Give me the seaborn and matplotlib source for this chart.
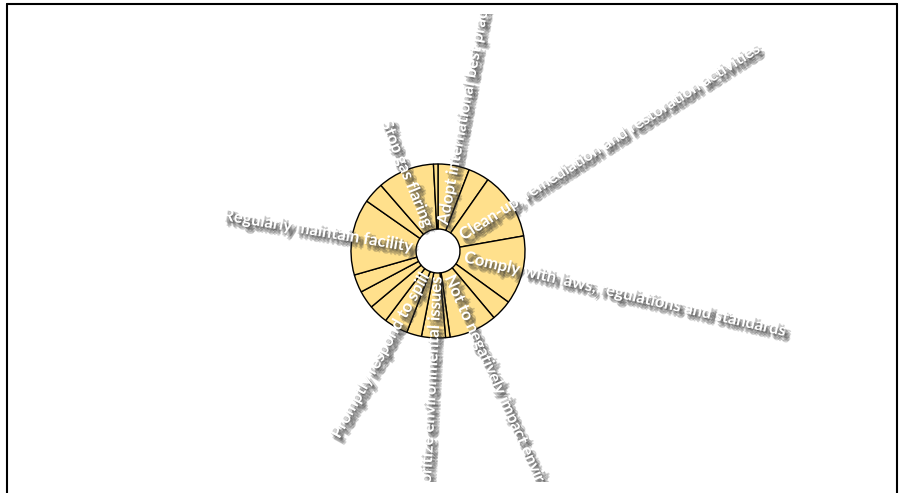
import numpy as np
import seaborn as sns
import matplotlib.pyplot as plt
import matplotlib.patheffects as pe
from matplotlib.lines import Line2D

# Slices clockwise from 12 o'clock (empty label = unlabeled small slice)
labels = ['Adopt international best practices', '', 'Clean-up, remediation and restoration activities',
          'Comply with laws, regulations and standards', '', 'Not to negatively impact environment', '',
          'Prioritize environmental issues', '', 'Promptly respond to spill', '', '', '',
          'Regularly maintain facility', '', 'Stop gas flaring', '']
values = [21, 14, 45, 46, 14, 32, 3, 16, 10, 16, 13, 12, 12, 51, 14, 38, 3]

sns.set_theme(style='white')
plt.rcParams['font.family'] = ['Lato', 'DejaVu Sans']

W, H = 903, 493
cx, cy = 438, 251
fig = plt.figure(figsize=(W / 100, H / 100), dpi=100)

# axes in pixel units so the pie sits where it should; it also clips the labels
left, right, top, bottom = 8, 896, 14, 482
ax = fig.add_axes([left / W, (H - bottom) / H, (right - left) / W, (bottom - top) / H])

r_out, r_in = 87, 22
wedges, _ = ax.pie(values, radius=r_out, startangle=90, counterclock=False,
                   colors=['#FFE08C'] * len(values),
                   wedgeprops=dict(width=r_out - r_in, edgecolor='black', linewidth=1.0))
ax.set_xlim(left - cx, right - cx)
ax.set_ylim(cy - bottom, cy - top)
ax.set_aspect('equal')
ax.axis('off')

# soft dark drop shadow behind the white labels
shadow = [pe.SimplePatchShadow(offset=(dx, -dy), shadow_rgbFace='#303030', alpha=0.22)
          for dx, dy in [(1, 1), (2, 2), (3, 3), (4, 4), (2, 4), (4, 2), (3, 5)]]
shadow.append(pe.Normal())

cum = np.cumsum(values)
for lab, v, c in zip(labels, values, cum):
    if not lab:
        continue
    theta = (c - v / 2) / sum(values) * 360  # clockwise from top
    phi = 90 - theta
    x = 27 * np.sin(np.radians(theta))
    y = 27 * np.cos(np.radians(theta))
    if theta <= 180:
        rot, ha = phi, 'left'
    else:
        rot, ha = phi + 180, 'right'
    t = ax.text(x, y, lab, rotation=rot, rotation_mode='anchor', ha=ha, va='center',
                color='white', fontsize=12, fontweight='bold', clip_on=True)
    t.set_path_effects(shadow)

# frame
lc = dict(color='black', linewidth=1.5, transform=fig.transFigure)
fig.add_artist(Line2D([7 / W, 897 / W], [1 - 4 / H, 1 - 4 / H], **lc))
fig.add_artist(Line2D([7 / W, 7 / W], [0, 1 - 4 / H], **lc))
fig.add_artist(Line2D([897 / W, 897 / W], [0, 1 - 4 / H], **lc))

fig.savefig('out.png', dpi=100)
